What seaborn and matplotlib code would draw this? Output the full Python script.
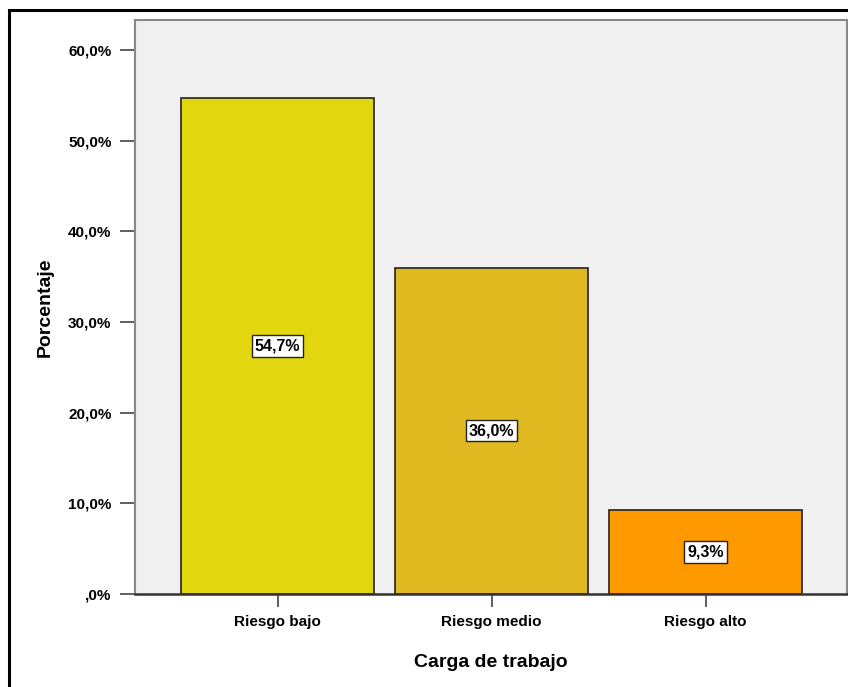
import matplotlib
matplotlib.use("Agg")
import matplotlib.pyplot as plt
from matplotlib.patches import Rectangle
import seaborn as sns
import pandas as pd

# Workload risk distribution
categories = ["Riesgo bajo", "Riesgo medio", "Riesgo alto"]
percentages = [54.7, 36.0, 9.3]
bar_labels = ["54,7%", "36,0%", "9,3%"]
bar_colors = ["#E2D60F", "#E0B820", "#FF9900"]
y_ticks = [0, 10, 20, 30, 40, 50, 60]
y_tick_labels = [",0%", "10,0%", "20,0%", "30,0%", "40,0%", "50,0%", "60,0%"]

sns.set_theme(style="white")
plt.rcParams["font.family"] = ["Liberation Sans", "DejaVu Sans"]
plt.rcParams["font.weight"] = "bold"
plt.rcParams["text.color"] = "black"
plt.rcParams["axes.labelcolor"] = "black"
plt.rcParams["xtick.color"] = "black"
plt.rcParams["ytick.color"] = "black"

df = pd.DataFrame({"cat": categories, "pct": percentages})

fig = plt.figure(figsize=(8.48, 6.87), dpi=100)
ax = fig.add_axes([135 / 848, 1 - 594 / 687, 712 / 848, 574 / 687])
ax.set_facecolor("#F0F0F0")

sns.barplot(data=df, x="cat", y="pct", hue="cat", palette=bar_colors,
            order=categories, hue_order=categories, width=0.9, saturation=1,
            edgecolor="#222222", linewidth=1.2, legend=False, ax=ax)

for i, (val, lab) in enumerate(zip(percentages, bar_labels)):
    ax.text(i, val / 2, lab, ha="center", va="center", fontsize=11.5,
            fontweight="bold", color="black",
            bbox=dict(boxstyle="square,pad=0.2", fc="white", ec="#222222", lw=1.0))

ax.set_xlim(-0.666, 2.661)
ax.set_ylim(0, 63.3)
ax.set_yticks(y_ticks)
ax.set_yticklabels(y_tick_labels, fontsize=11, fontweight="bold")
ax.set_xticks(range(len(categories)))
ax.set_xticklabels(categories, fontsize=11, fontweight="bold")
ax.tick_params(axis="y", which="major", direction="out", length=11, width=1.2,
               color="#444444", labelcolor="black", pad=6, left=True)
ax.tick_params(axis="x", which="major", direction="out", length=9, width=1.2,
               color="#444444", labelcolor="black", pad=6, bottom=True)

ax.set_xlabel("Carga de trabajo", fontsize=14, fontweight="bold", labelpad=18,
              color="black")
ax.set_ylabel("Porcentaje", fontsize=14, fontweight="bold", labelpad=10,
              color="black")

for side in ["left", "top", "right"]:
    ax.spines[side].set_visible(True)
    ax.spines[side].set_color("#888888")
    ax.spines[side].set_linewidth(1.5)
ax.spines["bottom"].set_color("#333333")
ax.spines["bottom"].set_linewidth(1.8)

# Outer chart frame
fig.patches.append(Rectangle((9 / 848, -0.05), 1.2, 1 - 10 / 687 + 0.05,
                             transform=fig.transFigure, fill=False,
                             edgecolor="black", linewidth=2.2, clip_on=False))

fig.savefig("out.png", dpi=100)
